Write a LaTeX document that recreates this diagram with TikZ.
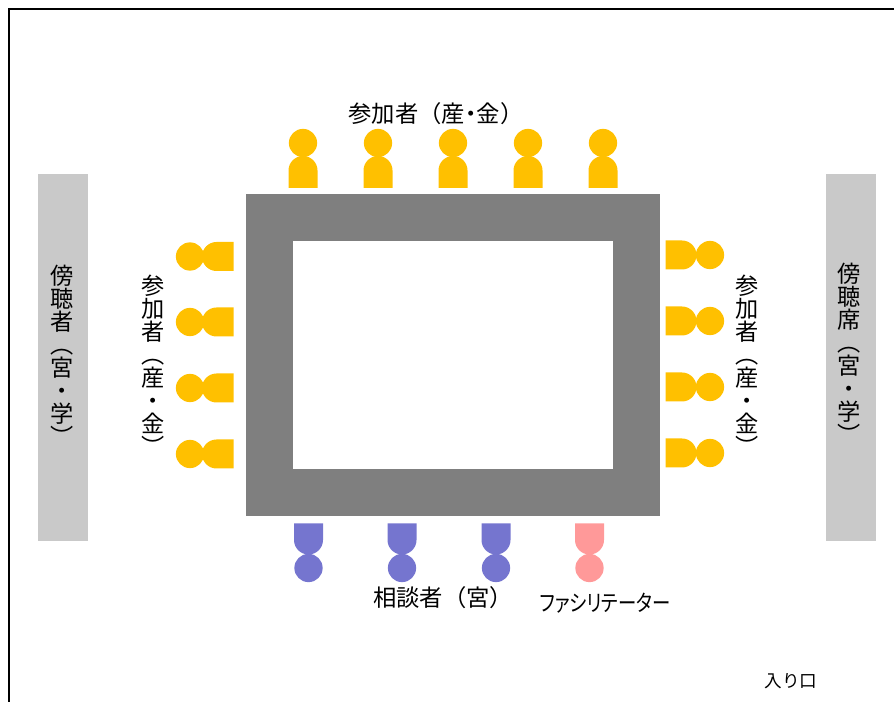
\documentclass[tikz,border=0pt]{standalone}
\usepackage{fontspec}
\usepackage{xcolor}
\usetikzlibrary{positioning,calc}
\setmainfont{Noto Sans CJK JP}
\newfontfamily\narrowkana[RawFeature=+palt]{Noto Sans CJK JP}
\definecolor{tablegray}{RGB}{127, 127, 127}
\definecolor{panelgray}{RGB}{201, 201, 201}
\definecolor{sangyo}{RGB}{255, 192, 0}
\definecolor{miya}{RGB}{117, 117, 207}
\definecolor{facil}{RGB}{255, 153, 153}
\tikzset{
  panel/.style={fill=panelgray, draw=none},
  head/.style={circle, fill=#1, draw=none, inner sep=0pt, minimum size=21.2pt},
  vlabel/.style={inner sep=0pt, align=center, anchor=north, font=\fontsize{17.4}{17.25}\selectfont},
  hlabel/.style={inner sep=0pt, font=\fontsize{17.5}{20}\selectfont}
}
\begin{document}
\begin{tikzpicture}[x=0.75pt, y=-0.75pt]
      \useasboundingbox (0,0) rectangle (894,702);

      % outer line of the room
      \draw[line width=1.4pt] (9,702) -- (9,9) -- (894,9);

      \fill[panel] (37.5,174.5) rectangle (87.5,541);
      \fill[panel] (825.5,174.5) rectangle (875.5,541);
      \node[vlabel] (leftpanel) at (62,265) {傍\\聴\\者\\︵\\宮\\・\\学\\︶};
      \node[vlabel] (rightpanel) at (849,263) {傍\\聴\\席\\︵\\宮\\・\\学\\︶};

      % table
      \fill[tablegray] (246,194.5) rectangle (659.5,516);
      \fill[white] (292.5,241) rectangle (612.5,469.5);

      % top row
      \foreach \x in {303,378,453,528,603} {
        \node[head=sangyo] (top\x) at (\x,143) {};
        \fill[sangyo] (\x-14.5,188) -- (\x-14.5,170.5) arc (180:360:14.5) -- (\x+14.5,188) -- cycle;
      }
      \node[hlabel] (toplabel) at (436,114) {参加者（産\kern-.25em・\kern-.25em金）};

      % left and right rows
      \foreach \y in {256.5,322,388,454} {
        \node[head=sangyo] (left\y) at (190,\y) {};
        \fill[sangyo] (233.5,\y-14.5) -- (216.5,\y-14.5) arc (270:90:14.5) -- (233.5,\y+14.5) -- cycle;
      }
      \foreach \y in {255,321,387,453} {
        \node[head=sangyo] (right\y) at (710,\y) {};
        \fill[sangyo] (665.5,\y-14.5) -- (682,\y-14.5) arc (-90:90:14.5) -- (665.5,\y+14.5) -- cycle;
      }
      \node[vlabel] (leftlabel) at (153,275) {参\\加\\者\\︵\\産\\・\\金\\︶};
      \node[vlabel] (rightlabel) at (747,275) {参\\加\\者\\︵\\産\\・\\金\\︶};

      % bottom row
      \foreach \x/\c in {308.5/miya,402/miya,496/miya,589.5/facil} {
        \node[head=\c] (bottom\x) at (\x,568) {};
        \fill[\c] (\x-14.5,523.5) -- (\x+14.5,523.5) -- (\x+14.5,540) arc (0:180:14.5) -- cycle;
      }
      \node[hlabel] (miyalabel) at (443,598) {相談者（宮）};
      \node[hlabel, font=\narrowkana\fontsize{17}{20}\selectfont] (faciltext) at (605,603) {\scalebox{.81}[1]{ファシリテーター}};

      \node[hlabel, font=\fontsize{13.2}{16}\selectfont] (entrance) at (791,681) {入り口};
\end{tikzpicture}
\end{document}
